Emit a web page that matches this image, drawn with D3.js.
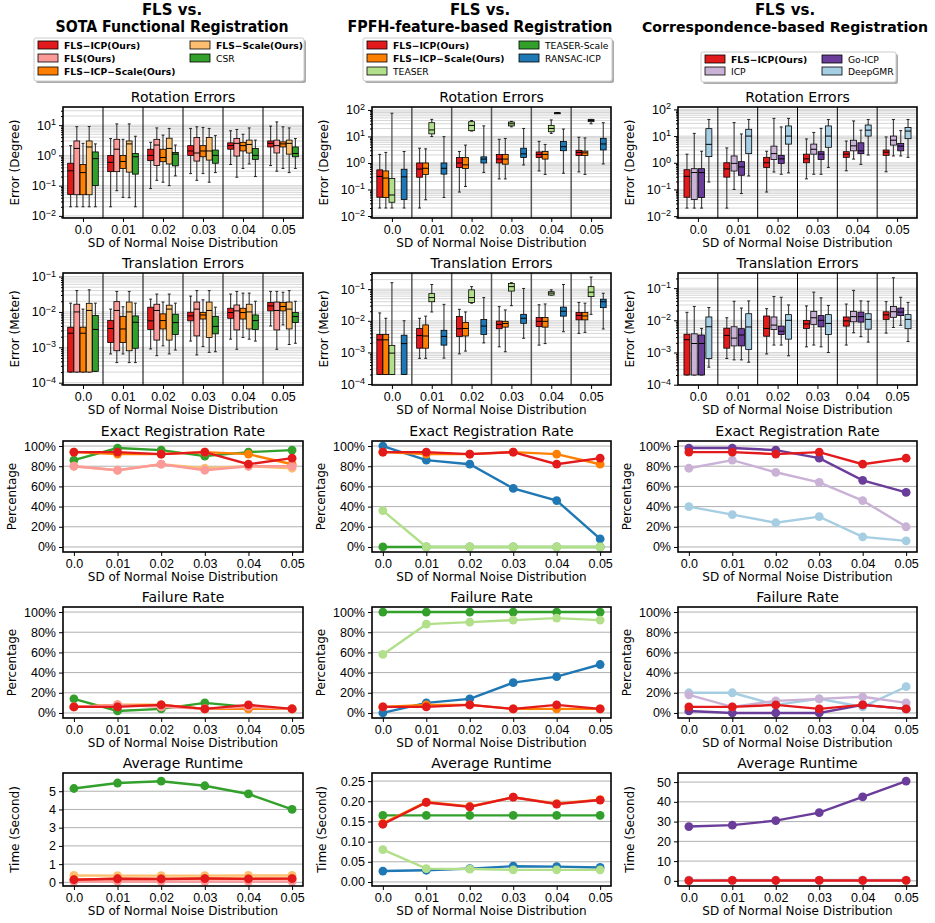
<!DOCTYPE html>
<html>
<head>
<meta charset="utf-8">
<script src="https://cdn.jsdelivr.net/npm/d3@7"></script>
<style>
  body { margin: 0; background: #fff; }
  svg { font-family: "DejaVu Sans", sans-serif; }
</style>
</head>
<body>
<svg id="chart" width="935" height="923"></svg>
<script>
// noise levels (x categories)
const noiseLabels = ["0.0", "0.01", "0.02", "0.03", "0.04", "0.05"];
const noiseLevels = [0, 0.01, 0.02, 0.03, 0.04, 0.05];

// box stats: [whiskerLow, q1, median, q3, whiskerHigh]
const rotFlsIcp = [[0.02,0.051,0.31,0.55,2.1],[0.02,0.29,0.59,1.0,3.6],[0.08,0.67,1.0,1.6,2.7],[0.25,1.0,1.4,2.1,7.8],[0.5,1.6,2.1,2.6,6.5],[0.46,1.9,2.5,3.0,9.3]];
const rotFls = [[0.02,0.05,1.7,3.0,8.9],[0.068,0.29,1.6,3.4,11],[0.15,0.46,2.2,3.4,8.1],[0.15,0.65,1.2,3.9,8.8],[0.19,0.95,2.5,3.6,7.2],[0.3,1.2,2.1,3.2,12.8]];
const rotFlsIcpScale = [[0.02,0.05,0.27,0.5,2.5],[0.041,0.37,0.63,1.0,3.4],[0.13,0.62,0.85,1.6,4.7],[0.25,0.9,1.4,2.1,8.4],[0.37,1.4,2.1,2.7,5.0],[0.37,1.9,2.4,2.8,8.8]];
const rotFlsScale = [[0.02,0.05,1.9,3.0,9],[0.04,0.28,2.4,3.0,11],[0.1,0.52,1.7,3.7,7.8],[0.13,0.7,1.4,3.9,7.8],[0.52,1.2,2.3,3.2,8.1],[0.27,1.1,2.5,3.2,8.1]];
const rotCsr = [[0.02,0.1,0.78,1.3,2.4],[0.02,0.24,0.9,1.15,4.3],[0.21,0.45,1.1,1.25,2.2],[0.27,0.55,1.0,1.5,4.5],[0.2,0.74,1.0,1.7,3.2],[0.37,0.9,1.16,1.9,3.6]];
const rotTeaser = [[0.02,0.033,0.062,0.26,75],[9.9,12.5,17.6,33,44],[16,16.5,26,36,40],[23,25,30,35,37],[13,15,20,26,42],[30,36,40,44,44]];
const rotTeaserScale = [null, null, null, null, [78,78,78,78,78], null];
const rotRansac = [[0.02,0.042,0.3,0.58,2.7],[0.05,0.38,0.63,1.0,9.8],[0.44,1.0,1.4,1.7,25],[0.84,1.6,2.2,3.6,20],[0.41,2.9,4.1,6.4,19],[0.92,3.1,5.2,8.5,33]];
const rotIcp = [[0.02,0.042,0.43,0.6,12.6],[0.1,0.49,0.95,1.8,32],[0.45,1.33,2.2,4.2,46],[0.37,2.1,3.2,5,13.7],[1.37,2.8,4.3,7,37],[1.8,4.6,7,10,42]];
const rotGoIcp = [[0.02,0.05,0.43,0.6,2.7],[0.07,0.34,0.7,1.1,12],[0.37,0.95,1.4,1.9,22],[0.37,1.33,2.1,2.6,19.5],[0.87,2.2,2.8,5.6,16.7],[1.8,2.8,4.2,5.3,16]];
const rotDeepGmr = [[0.19,1.7,4.9,19,42],[0.32,2.2,10,18,42],[0.42,5,10,24,46],[0.67,3.8,10,24,42],[1.95,10,16.7,26,42],[1.6,8,15.4,21,42]];

const trFlsIcp = [[0.0002,0.0002,0.0025,0.0037,0.0177],[0.00065,0.00136,0.0034,0.0057,0.012],[0.0009,0.0032,0.0056,0.0136,0.023],[0.0015,0.0056,0.0077,0.0098,0.028],[0.0017,0.0066,0.0096,0.0127,0.032],[0.004,0.0107,0.0148,0.0184,0.038]];
const trFls = [[0.0002,0.0002,0.01,0.0165,0.04],[0.00037,0.0008,0.011,0.0195,0.038],[0.00058,0.0016,0.011,0.0165,0.032],[0.00061,0.0021,0.012,0.019,0.04],[0.00088,0.0031,0.0107,0.0157,0.038],[0.00088,0.0031,0.011,0.019,0.038]];
const trFlsIcpScale = [[0.0002,0.0002,0.0025,0.0037,0.012],[0.00065,0.00136,0.0033,0.0074,0.014],[0.0011,0.0033,0.0057,0.0088,0.019],[0.00105,0.0063,0.0082,0.0096,0.022],[0.0019,0.0063,0.0096,0.0127,0.034],[0.0043,0.0107,0.0142,0.0184,0.036]];
const trFlsScale = [[0.0002,0.0002,0.011,0.0175,0.042],[0.00037,0.0008,0.01,0.019,0.038],[0.00065,0.0016,0.012,0.0155,0.032],[0.00072,0.0019,0.011,0.019,0.04],[0.0017,0.0033,0.01,0.0165,0.034],[0.0012,0.0033,0.012,0.019,0.04]];
const trCsr = [[0.00021,0.00021,0.0032,0.0079,0.0177],[0.00037,0.00094,0.0051,0.0077,0.0177],[0.00084,0.0023,0.005,0.0086,0.0177],[0.00075,0.0024,0.0039,0.0074,0.0136],[0.0015,0.0032,0.0057,0.0082,0.02],[0.0013,0.005,0.0074,0.0096,0.02]];
const trTeaser = [[0.0002,0.0002,0.00095,0.00167,0.16],[0.019,0.04,0.054,0.072,0.14],[0.036,0.038,0.054,0.095,0.12],[0.03,0.087,0.12,0.15,0.16],[0.065,0.065,0.075,0.083,0.095],[0.016,0.058,0.08,0.12,0.24]];
const trTeaserScale = [null, null, null, null, null, null];
const trRansac = [[0.0002,0.0002,0.0019,0.0035,0.01],[0.00066,0.0017,0.0032,0.005,0.033],[0.002,0.0037,0.0068,0.011,0.054],[0.0028,0.0083,0.012,0.016,0.105],[0.0045,0.014,0.02,0.027,0.14],[0.0055,0.026,0.04,0.048,0.074]];
const trIcp = [[0.0002,0.0002,0.0019,0.0038,0.027],[0.00059,0.0016,0.0028,0.0063,0.039],[0.0017,0.0052,0.0071,0.0127,0.055],[0.0017,0.0075,0.012,0.019,0.075],[0.0041,0.009,0.013,0.019,0.085],[0.006,0.0124,0.0185,0.027,0.21]];
const trGoIcp = [[0.0002,0.0002,0.0019,0.0035,0.0056],[0.00059,0.0016,0.0035,0.0055,0.024],[0.0017,0.0036,0.0046,0.0066,0.052],[0.0015,0.0063,0.01,0.014,0.05],[0.0031,0.0088,0.013,0.018,0.04],[0.007,0.014,0.018,0.024,0.052]];
const trDeepGmr = [[0.00035,0.00065,0.0063,0.0127,0.025],[0.0005,0.00125,0.0062,0.016,0.04],[0.00079,0.0026,0.01,0.015,0.03],[0.001,0.0036,0.008,0.015,0.029],[0.0021,0.0053,0.0107,0.016,0.039],[0.0022,0.0055,0.0107,0.015,0.036]];

// exact registration rate (%)
const exactFlsIcp = [94, 94, 92, 94, 82, 88];
const exactFls = [80, 76, 82, 76, 80, 80];
const exactFlsIcpScale = [94, 92, 92, 94, 92, 82];
const exactFlsScale = [80, 76, 82, 78, 80, 78];
const exactCsr = [86, 98, 96, 90, 94, 96];
const exactTeaser = [36, 0, 0, 0, 0, 0];
const exactTeaserScale = [0, 0, 0, 0, 0, 0];
const exactRansac = [100, 86, 82, 58, 46, 8];
const exactIcp = [78, 86, 74, 64, 46, 20];
const exactGoIcp = [98, 98, 96, 88, 66, 54];
const exactDeepGmr = [40, 32, 24, 30, 10, 6];

// failure rate (%)
const failFlsIcp = [6, 6, 8, 4, 8, 4];
const failFls = [6, 8, 6, 4, 6, 4];
const failFlsIcpScale = [6, 8, 8, 4, 4, 4];
const failFlsScale = [6, 8, 8, 4, 6, 4];
const failCsr = [14, 2, 4, 10, 6, 4];
const failTeaser = [58, 88, 90, 92, 94, 92];
const failTeaserScale = [100, 100, 100, 100, 100, 100];
const failRansac = [0, 10, 14, 30, 36, 48];
const failIcp = [18, 6, 12, 14, 16, 10];
const failGoIcp = [2, 0, 0, 0, 8, 4];
const failDeepGmr = [20, 20, 8, 14, 6, 26];

// average runtime (s)
const timeFlsIcp = [0.143, 0.197, 0.186, 0.21, 0.193, 0.203];
const timeFls = [0.05, 0.05, 0.05, 0.05, 0.05, 0.05];
const timeFlsIcpScale = [0.145, 0.198, 0.187, 0.21, 0.194, 0.204];
const timeFlsScale = [0.38, 0.37, 0.37, 0.37, 0.38, 0.38];
const timeCsr = [5.15, 5.45, 5.55, 5.3, 4.85, 4.0];
const timeTeaser = [0.08, 0.033, 0.032, 0.03, 0.03, 0.03];
const timeTeaserScale = [0.165, 0.165, 0.165, 0.165, 0.165, 0.165];
const timeRansac = [0.027, 0.029, 0.033, 0.039, 0.038, 0.036];
const timeIcp = [0.3, 0.3, 0.3, 0.3, 0.3, 0.3];
const timeGoIcp = [27.5, 28.2, 30.5, 34.5, 42.5, 50.5];
const timeDeepGmr = [0.4, 0.4, 0.4, 0.4, 0.4, 0.4];

const flsIcp = { name: "FLS−ICP(Ours)", color: "#e31a1c", bold: true, rot: rotFlsIcp, tr: trFlsIcp, exact: exactFlsIcp, fail: failFlsIcp, time: timeFlsIcp };
const flsIcpScale = { name: "FLS−ICP−Scale(Ours)", color: "#ff7f00", bold: true, rot: rotFlsIcpScale, tr: trFlsIcpScale, exact: exactFlsIcpScale, fail: failFlsIcpScale, time: timeFlsIcpScale };

const columns = [
  {
    title: ["FLS vs.", "SOTA Functional Registration"], titleX: 172, titleW: 233, titleSize: 15,
    x: [63, 303], slot: 6.2, boxW: 5.8,
    rotDom: [10 ** -2.07, 10 ** 1.6], trDom: [10 ** -4.065, 10 ** -0.9],
    timeDom: [-0.2, 6.0], timeTicks: [0, 1, 2, 3, 4, 5], timeFmt: d3.format("d"),
    legend: { box: [34, 38, 270, 43], cols: [38, 190], rows: [45, 58, 71], split: 3 },
    methods: [
      flsIcp,
      { name: "FLS(Ours)", color: "#fb9a99", bold: true, rot: rotFls, tr: trFls, exact: exactFls, fail: failFls, time: timeFls },
      flsIcpScale,
      { name: "FLS−Scale(Ours)", color: "#fdbf6f", bold: true, rot: rotFlsScale, tr: trFlsScale, exact: exactFlsScale, fail: failFlsScale, time: timeFlsScale },
      { name: "CSR", color: "#33a02c", bold: false, rot: rotCsr, tr: trCsr, exact: exactCsr, fail: failCsr, time: timeCsr }
    ]
  },
  {
    title: ["FLS vs.", "FPFH-feature-based Registration"], titleX: 480, titleW: 265, titleSize: 15,
    x: [372, 611], slot: 6.1, boxW: 5.8,
    rotDom: [10 ** -2.075, 10 ** 2.11], trDom: [10 ** -4.03, 10 ** -0.49],
    timeDom: [-0.01, 0.27], timeTicks: [0, 0.05, 0.1, 0.15, 0.2, 0.25], timeFmt: d3.format(".2f"),
    legend: { box: [363, 38, 249, 43], cols: [367, 519], rows: [45, 58, 71], split: 3 },
    methods: [
      flsIcp,
      flsIcpScale,
      { name: "TEASER", color: "#b2df8a", bold: false, rot: rotTeaser, tr: trTeaser, exact: exactTeaser, fail: failTeaser, time: timeTeaser },
      { name: "TEASER-Scale", color: "#33a02c", bold: false, rot: rotTeaserScale, tr: trTeaserScale, exact: exactTeaserScale, fail: failTeaserScale, time: timeTeaserScale },
      { name: "RANSAC-ICP", color: "#1f78b4", bold: false, rot: rotRansac, tr: trRansac, exact: exactRansac, fail: failRansac, time: timeRansac }
    ]
  },
  {
    title: ["FLS vs.", "Correspondence-based Registration"], titleX: 785, titleW: 286, titleSize: 14,
    x: [678, 917], slot: 7.3, boxW: 6,
    rotDom: [10 ** -2.07, 10 ** 2.09], trDom: [10 ** -4.01, 10 ** -0.53],
    timeDom: [-2.6, 54.6], timeTicks: [0, 10, 20, 30, 40, 50], timeFmt: d3.format("d"),
    legend: { box: [701, 52, 195, 30], cols: [705, 822], rows: [59, 71], split: 2 },
    methods: [
      flsIcp,
      { name: "ICP", color: "#cab2d6", bold: false, rot: rotIcp, tr: trIcp, exact: exactIcp, fail: failIcp, time: timeIcp },
      { name: "Go-ICP", color: "#6a3d9a", bold: false, rot: rotGoIcp, tr: trGoIcp, exact: exactGoIcp, fail: failGoIcp, time: timeGoIcp },
      { name: "DeepGMR", color: "#a6cee3", bold: false, rot: rotDeepGmr, tr: trDeepGmr, exact: exactDeepGmr, fail: failDeepGmr, time: timeDeepGmr }
    ]
  }
];

const rows = [[107, 218], [273, 385], [441, 552], [607, 718], [773, 886]];

const svg = d3.select("#chart");

function supLabel(sel) {
  sel.selectAll(".tick text").each(function (d) {
    const e = Math.round(Math.log10(d));
    const t = d3.select(this).text(null);
    t.append("tspan").text("10");
    t.append("tspan").attr("dy", "-0.5em").attr("font-size", "0.72em")
      .text(e < 0 ? "−" + (-e) : e);
  });
}

function commonText(g, col, top, bottom, title, ylabel, yOff) {
  const [x0, x1] = col.x;
  g.append("text").attr("x", (x0 + x1) / 2).attr("y", top - 5)
    .attr("text-anchor", "middle").attr("font-size", 14).text(title);
  g.append("text").attr("x", (x0 + x1) / 2).attr("y", bottom + 29)
    .attr("text-anchor", "middle").attr("font-size", 12).text("SD of Normal Noise Distribution");
  g.append("text").attr("transform", `translate(${x0 - yOff},${(top + bottom) / 2}) rotate(-90)`)
    .attr("text-anchor", "middle").attr("font-size", 12).text(ylabel);
  g.append("rect").attr("x", x0).attr("y", top).attr("width", x1 - x0).attr("height", bottom - top)
    .attr("fill", "none").attr("stroke", "#000").attr("stroke-width", 1.6);
}

function styleAxis(a) {
  a.select(".domain").remove();
  a.selectAll(".tick text").attr("font-size", 12.5).attr("fill", "#000");
  a.selectAll(".tick line").attr("stroke", "#000");
}

function boxPanel(col, ci, key, domain, rowIdx, title, ylabel) {
  const [top, bottom] = rows[rowIdx];
  const [x0, x1] = col.x;
  const g = svg.append("g");
  const x = d3.scaleLinear().domain([-0.5, 5.5]).range([x0, x1]);
  const y = d3.scaleLog().domain(domain).range([bottom, top]);

  const lo = Math.floor(Math.log10(domain[0])), hi = Math.ceil(Math.log10(domain[1]));
  const majors = d3.range(lo, hi + 1).map(e => 10 ** e).filter(v => v >= domain[0] && v <= domain[1]);
  const minors = [];
  d3.range(lo, hi + 1).forEach(e => d3.range(2, 10).forEach(m => {
    const v = m * 10 ** e;
    if (v >= domain[0] && v <= domain[1]) minors.push(v);
  }));

  g.append("g").selectAll("line").data(majors.concat(minors)).join("line")
    .attr("x1", x0).attr("x2", x1).attr("y1", d => y(d)).attr("y2", d => y(d))
    .attr("stroke", "#d6d6d6").attr("stroke-width", 1);

  g.append("g").selectAll("line").data(d3.range(0.5, 5, 1)).join("line")
    .attr("x1", d => x(d)).attr("x2", d => x(d)).attr("y1", top).attr("y2", bottom)
    .attr("stroke", ci === 1 ? "#555" : "#000").attr("stroke-width", ci === 1 ? 1.5 : 1);

  const n = col.methods.length;
  col.methods.forEach((m, mi) => {
    const off = (mi - (n - 1) / 2) * col.slot;
    const w = col.boxW;
    m[key].forEach((s, gi) => {
      if (!s) return;
      const cx = x(gi) + off;
      const bg = g.append("g");
      bg.append("line").attr("x1", cx).attr("x2", cx).attr("y1", y(s[0])).attr("y2", y(s[1]))
        .attr("stroke", "#444").attr("stroke-width", 1.2);
      bg.append("line").attr("x1", cx).attr("x2", cx).attr("y1", y(s[3])).attr("y2", y(s[4]))
        .attr("stroke", "#444").attr("stroke-width", 1.2);
      [s[0], s[4]].forEach(v => bg.append("line").attr("x1", cx - w / 4).attr("x2", cx + w / 4)
        .attr("y1", y(v)).attr("y2", y(v)).attr("stroke", "#222").attr("stroke-width", 1));
      bg.append("rect").attr("x", cx - w / 2).attr("width", w)
        .attr("y", y(s[3])).attr("height", Math.max(1, y(s[1]) - y(s[3])))
        .attr("fill", m.color).attr("stroke", "#000").attr("stroke-width", 0.8);
      bg.append("line").attr("x1", cx - w / 2).attr("x2", cx + w / 2)
        .attr("y1", y(s[2])).attr("y2", y(s[2])).attr("stroke", "#000").attr("stroke-width", 1);
    });
  });

  const ya = g.append("g").attr("transform", `translate(${x0},0)`)
    .call(d3.axisLeft(y).tickValues(majors).tickSize(4).tickPadding(3));
  styleAxis(ya);
  supLabel(ya);
  g.append("g").attr("transform", `translate(${x0},0)`)
    .call(d3.axisLeft(y).tickValues(minors).tickSize(2).tickFormat(""))
    .call(a => a.select(".domain").remove());

  const xa = g.append("g").attr("transform", `translate(0,${bottom})`)
    .call(d3.axisBottom(x).tickValues(d3.range(6)).tickSize(4).tickPadding(3).tickFormat(i => noiseLabels[i]));
  styleAxis(xa);

  commonText(g, col, top, bottom, title, ylabel, 44);
}

function linePanel(col, key, rowIdx, title, ylabel, yDom, yTicks, yFmt, yOff) {
  const [top, bottom] = rows[rowIdx];
  const [x0, x1] = col.x;
  const g = svg.append("g");
  const x = d3.scaleLinear().domain([-0.0025, 0.0525]).range([x0, x1]);
  const y = d3.scaleLinear().domain(yDom).range([bottom, top]);

  g.append("g").selectAll("line").data(yTicks).join("line")
    .attr("x1", x0).attr("x2", x1).attr("y1", d => y(d)).attr("y2", d => y(d))
    .attr("stroke", "#b0b0b0").attr("stroke-width", 1);

  const line = d3.line().x((d, i) => x(noiseLevels[i])).y(d => y(d));
  col.methods.slice().reverse().forEach(m => {
    const vals = m[key];
    g.append("path").datum(vals).attr("d", line)
      .attr("fill", "none").attr("stroke", m.color).attr("stroke-width", 2.4);
    g.append("g").selectAll("circle").data(vals).join("circle")
      .attr("cx", (d, i) => x(noiseLevels[i])).attr("cy", d => y(d)).attr("r", 4.4)
      .attr("fill", m.color);
  });

  const ya = g.append("g").attr("transform", `translate(${x0},0)`)
    .call(d3.axisLeft(y).tickValues(yTicks).tickSize(4).tickPadding(3).tickFormat(yFmt));
  styleAxis(ya);
  const xa = g.append("g").attr("transform", `translate(0,${bottom})`)
    .call(d3.axisBottom(x).tickValues(noiseLevels).tickSize(4).tickPadding(3).tickFormat((d, i) => noiseLabels[i]));
  styleAxis(xa);

  commonText(g, col, top, bottom, title, ylabel, yOff);
}

function legend(col) {
  const L = col.legend;
  const g = svg.append("g");
  g.append("rect").attr("x", L.box[0] + 2).attr("y", L.box[1] + 2).attr("width", L.box[2]).attr("height", L.box[3])
    .attr("rx", 2).attr("fill", "#aaa");
  g.append("rect").attr("x", L.box[0]).attr("y", L.box[1]).attr("width", L.box[2]).attr("height", L.box[3])
    .attr("rx", 2).attr("fill", "#fff").attr("stroke", "#ccc").attr("stroke-width", 1);
  col.methods.forEach((m, i) => {
    const c = i < L.split ? 0 : 1;
    const r = i < L.split ? i : i - L.split;
    const px = L.cols[c], py = L.rows[r];
    g.append("rect").attr("x", px).attr("y", py - 4).attr("width", 20).attr("height", 8)
      .attr("fill", m.color).attr("stroke", "#000").attr("stroke-width", 0.8);
    g.append("text").attr("x", px + 26).attr("y", py + 3.5).attr("font-size", 9.2)
      .attr("font-weight", m.bold ? "bold" : "normal").text(m.name);
  });
}

columns.forEach((col, ci) => {
  svg.append("text").attr("x", col.titleX).attr("y", 15).attr("text-anchor", "middle")
    .attr("font-size", 15).attr("font-weight", "bold").text(col.title[0]);
  svg.append("text").attr("x", col.titleX).attr("y", 32).attr("text-anchor", "middle")
    .attr("font-size", col.titleSize).attr("font-weight", "bold")
    .attr("textLength", col.titleW).attr("lengthAdjust", "spacingAndGlyphs").text(col.title[1]);
  legend(col);
  boxPanel(col, ci, "rot", col.rotDom, 0, "Rotation Errors", "Error (Degree)");
  boxPanel(col, ci, "tr", col.trDom, 1, "Translation Errors", "Error (Meter)");
  const pct = [0, 20, 40, 60, 80, 100];
  linePanel(col, "exact", 2, "Exact Registration Rate", "Percentage", [-5, 105], pct, d => d + "%", 47);
  linePanel(col, "fail", 3, "Failure Rate", "Percentage", [-5, 105], pct, d => d + "%", 47);
  linePanel(col, "time", 4, "Average Runtime", "Time (Second)", col.timeDom, col.timeTicks, col.timeFmt, ci === 1 ? 46 : 44);
});
</script>
</body>
</html>
